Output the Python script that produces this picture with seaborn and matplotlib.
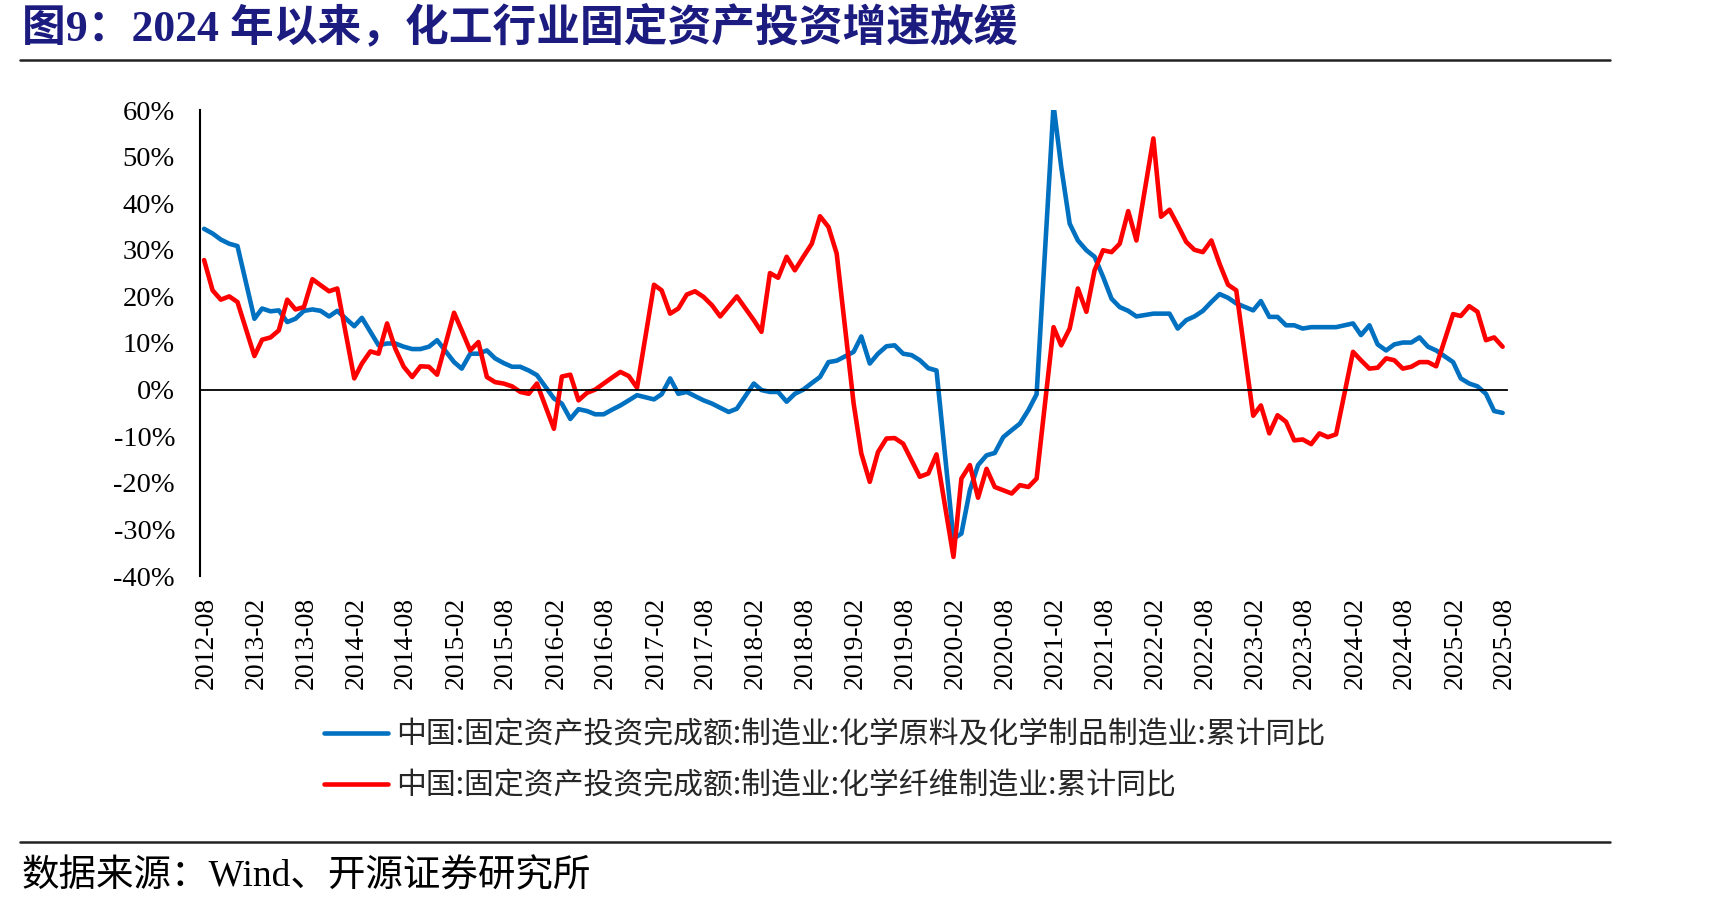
import pandas as pd
import matplotlib
matplotlib.use("Agg")
import matplotlib.pyplot as plt
import matplotlib.dates as mdates
from matplotlib.lines import Line2D
from matplotlib.ticker import FuncFormatter, MultipleLocator
from matplotlib.transforms import ScaledTranslation
import seaborn as sns

# monthly points 2012-08 .. 2025-08, January is not published (Jan-Feb reported together)
months = [d for d in pd.date_range("2012-08-01", "2025-08-01", freq="MS") if d.month != 1]

# 化学原料及化学制品制造业, cumulative YoY (%)
chem_raw = [
    34.5, 33.5, 32.2, 31.3, 30.8,
    15.2, 17.4, 16.8, 17.0, 14.5, 15.2, 16.9, 17.2, 16.9, 15.7, 16.9,
    13.6, 15.4, 12.4, 9.5, 9.9, 9.9, 9.2, 8.7, 8.7, 9.2, 10.6,
    5.9, 4.5, 7.7, 7.7, 8.4, 6.7, 5.7, 4.9, 4.9, 4.1, 3.1,
    -1.9, -3.0, -6.3, -4.2, -4.6, -5.3, -5.3, -4.3, -3.4, -2.3, -1.2,
    -2.1, -1.0, 2.4, -0.9, -0.5, -1.4, -2.3, -3.0, -3.9, -4.8, -4.1,
    1.3, -0.1, -0.5, -0.5, -2.6, -0.9, 0.0, 1.4, 2.7, 5.9, 6.2,
    8.1, 11.4, 5.6, 7.7, 9.3, 9.5, 7.7, 7.4, 6.3, 4.6, 4.1,
    -32.0, -30.9, -21.6, -16.2, -14.1, -13.6, -10.2, -8.7, -7.3, -4.4, -1.0,
    61.0, 47.8, 35.6, 32.0, 29.9, 28.5, 24.2, 19.5, 17.7, 16.9, 15.7,
    16.3, 16.3, 16.3, 13.1, 14.9, 15.7, 16.9, 18.8, 20.5, 19.7, 18.5,
    17.0, 19.0, 15.6, 15.6, 13.8, 13.8, 13.1, 13.4, 13.4, 13.4, 13.4,
    14.2, 11.7, 13.8, 9.7, 8.4, 9.7, 10.1, 10.1, 11.2, 9.2, 8.4,
    5.9, 2.4, 1.3, 0.7, -0.9, -4.6, -5.0,
]

# 化学纤维制造业, cumulative YoY (%)
chem_fiber = [
    27.8, 21.3, 19.3, 20.0, 18.8,
    7.2, 10.7, 11.2, 12.7, 19.3, 17.2, 17.7, 23.7, 22.4, 21.1, 21.7,
    2.4, 5.6, 8.2, 7.7, 14.2, 8.8, 4.9, 2.7, 5.0, 4.9, 3.2,
    16.5, 12.7, 8.4, 10.2, 2.7, 1.6, 1.3, 0.7, -0.5, -0.9, 1.3,
    -8.4, 2.8, 3.2, -2.3, -0.7, 0.0, 1.3, 2.6, 3.8, 2.9, 0.4,
    22.5, 21.3, 16.3, 17.4, 20.4, 21.1, 19.9, 18.1, 15.7, 17.9, 20.0,
    14.9, 12.4, 25.0, 24.0, 28.5, 25.6, 28.5, 31.3, 37.2, 34.9, 29.2,
    -3.0, -13.7, -19.8, -13.4, -10.5, -10.4, -11.6, -15.2, -18.7, -18.0, -13.9,
    -35.9, -19.1, -16.2, -23.2, -17.0, -20.9, -21.6, -22.3, -20.5, -20.9, -19.1,
    13.4, 9.5, 13.1, 21.7, 16.7, 25.6, 29.9, 29.5, 31.3, 38.3, 32.0,
    53.9, 37.1, 38.6, 35.3, 31.7, 30.0, 29.5, 32.0, 27.0, 22.5, 21.3,
    -5.6, -3.4, -9.4, -5.5, -6.9, -10.9, -10.7, -11.7, -9.4, -10.2, -9.6,
    8.1, 6.3, 4.5, 4.7, 6.7, 6.3, 4.5, 4.9, 5.9, 5.9, 5.0,
    16.2, 15.8, 17.9, 16.7, 10.6, 11.2, 9.2,
]

label_raw = "中国:固定资产投资完成额:制造业:化学原料及化学制品制造业:累计同比"
label_fiber = "中国:固定资产投资完成额:制造业:化学纤维制造业:累计同比"
colors = {label_raw: "#0070C0", label_fiber: "#FF0000"}

title = "图9：2024 年以来，化工行业固定资产投资增速放缓"
source = "数据来源：Wind、开源证券研究所"

tick_months = pd.date_range("2012-08-01", "2025-08-01", freq="6MS")

df = pd.DataFrame({
    "date": months + months,
    "value": chem_raw + chem_fiber,
    "series": [label_raw] * len(months) + [label_fiber] * len(months),
})
# points sit in the middle of their month
df["date"] = df["date"] + pd.Timedelta(days=15)

sns.set_style("white")
plt.rcParams["font.family"] = ["Liberation Serif", "Noto Sans CJK SC"]

W, H = 1735, 908
fig = plt.figure(figsize=(W / 100, H / 100), dpi=100)
ax = fig.add_axes([200 / W, 1 - 576 / H, 1307 / W, 466 / H])

sns.lineplot(data=df, x="date", y="value", hue="series", palette=colors,
             linewidth=3.3, legend=False, ax=ax)

ax.set_ylim(-40, 60)
ax.set_xlim(pd.Timestamp("2012-08-01"), pd.Timestamp("2025-09-01"))
ax.set_xlabel("")
ax.set_ylabel("")

for s in ["top", "right"]:
    ax.spines[s].set_visible(False)
ax.spines["bottom"].set_position(("data", 0))
ax.spines["bottom"].set_linewidth(1.3)
ax.spines["left"].set_linewidth(1.5)
ax.spines["bottom"].set_color("black")
ax.spines["left"].set_color("black")

ax.yaxis.set_major_locator(MultipleLocator(10))
ax.yaxis.set_major_formatter(FuncFormatter(lambda v, p: f"{v:.0f}%"))
ax.set_xticks(tick_months)
ax.xaxis.set_major_formatter(mdates.DateFormatter("%Y-%m"))

ax.tick_params(axis="x", direction="in", length=7, width=1.2, pad=149,
               labelrotation=90, labelsize=20, colors="black")
ax.tick_params(axis="y", direction="in", length=7, width=1.2, pad=18,
               labelsize=20.5, colors="black")
for lab in ax.get_xticklabels():
    lab.set_transform(lab.get_transform() + ScaledTranslation(0.06, 0, fig.dpi_scale_trans))

handles = [Line2D([], [], color=colors[k], lw=3.3) for k in (label_raw, label_fiber)]
fig.legend(handles, [label_raw, label_fiber], loc="upper left",
           bbox_to_anchor=(324 / W, 1 - 719 / H), frameon=False,
           prop={"family": ["Noto Sans CJK SC"], "size": 21.5},
           handlelength=2.15, handletextpad=0.28, labelspacing=0.68,
           borderpad=0, borderaxespad=0)

fig.text(22 / W, 1 - 27 / H, title, ha="left", va="center", fontsize=31.5,
         fontweight="bold", color="#1c1c80")
fig.add_artist(Line2D([20 / W, 1610 / W], [1 - 60 / H] * 2, color="#222222", lw=1.8))
fig.add_artist(Line2D([20 / W, 1610 / W], [1 - 842 / H] * 2, color="#222222", lw=1.8))
fig.text(22 / W, 1 - 877 / H, source, ha="left", va="center", fontsize=27, color="black")

fig.savefig("out.png", dpi=100)
